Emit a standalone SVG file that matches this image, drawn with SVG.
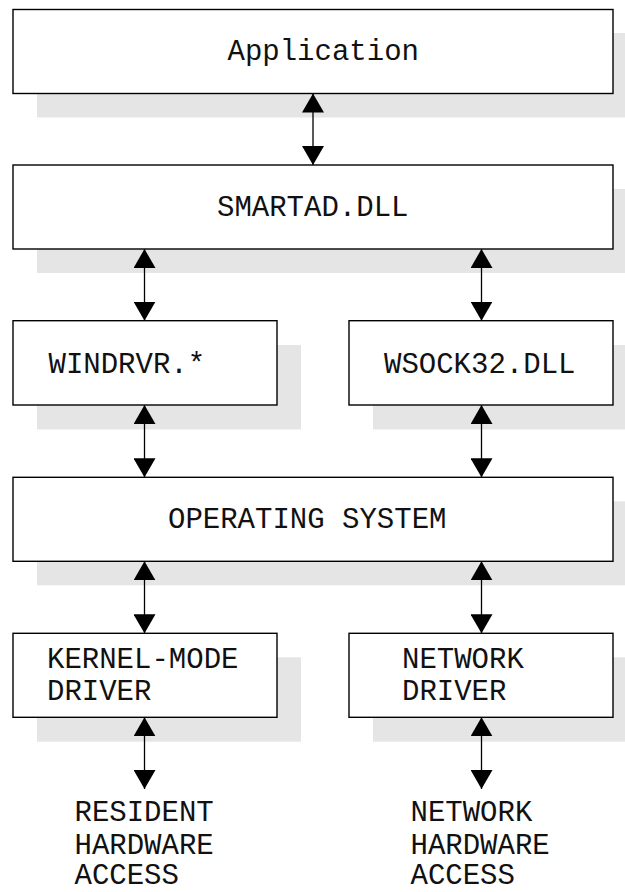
<svg xmlns="http://www.w3.org/2000/svg" width="625" height="892" viewBox="0 0 625 892">
<defs>
<style>
.shadow{fill:#e5e5e5;stroke:none}
.box{fill:#fff;stroke:#000;stroke-width:1.4}
.lbl{font-family:"Liberation Mono","Courier New",monospace;font-size:29px;fill:#111}
.conn{stroke:#000;stroke-width:1.3;fill:none;marker-start:url(#ah);marker-end:url(#ah)}
</style>
<marker id="ah" viewBox="0 0 19 22" refX="19" refY="11" markerWidth="19" markerHeight="22" markerUnits="userSpaceOnUse" orient="auto-start-reverse">
<path d="M0,0 L19,11 L0,22 z" fill="#000"/>
</marker>
</defs>
<rect width="625" height="892" fill="#fff"/>
<g id="shadows">
<rect class="shadow" x="37" y="33" width="600" height="84.5"/>
<rect class="shadow" x="37" y="189" width="600" height="84"/>
<rect class="shadow" x="37" y="345" width="264" height="84.5"/>
<rect class="shadow" x="373" y="345" width="264" height="84.5"/>
<rect class="shadow" x="37" y="501.3" width="600" height="84"/>
<rect class="shadow" x="37" y="657.3" width="264" height="84.4"/>
<rect class="shadow" x="373" y="657.3" width="264" height="84.4"/>
</g>
<g id="application">
<rect class="box" x="13" y="9.5" width="600" height="84"/>
<text class="lbl" x="227.5" y="60">Application</text>
</g>
<g id="smartad">
<rect class="box" x="13" y="165" width="600" height="84"/>
<text class="lbl" x="217" y="216">SMARTAD.DLL</text>
</g>
<g id="windrvr">
<rect class="box" x="13" y="320.7" width="264" height="84.3"/>
<text class="lbl" x="48.5" y="372.7">WINDRVR.*</text>
</g>
<g id="wsock32">
<rect class="box" x="349" y="320.7" width="264" height="84.3"/>
<text class="lbl" x="384" y="372.7">WSOCK32.DLL</text>
</g>
<g id="os">
<rect class="box" x="13" y="477.3" width="600" height="84"/>
<text class="lbl" x="168" y="528.3">OPERATING SYSTEM</text>
</g>
<g id="kernel">
<rect class="box" x="13" y="633.3" width="264" height="84"/>
<text class="lbl" x="47" y="667.5">KERNEL-MODE</text>
<text class="lbl" x="47" y="699.5">DRIVER</text>
</g>
<g id="netdriver">
<rect class="box" x="349" y="633.3" width="264" height="84"/>
<text class="lbl" x="402" y="668.3">NETWORK</text>
<text class="lbl" x="402" y="700">DRIVER</text>
</g>
<g id="resident">
<text class="lbl" x="74.5" y="821">RESIDENT</text>
<text class="lbl" x="74.5" y="853.5">HARDWARE</text>
<text class="lbl" x="74.5" y="884">ACCESS</text>
</g>
<g id="nethw">
<text class="lbl" x="410.5" y="821">NETWORK</text>
<text class="lbl" x="410.5" y="853.5">HARDWARE</text>
<text class="lbl" x="410.5" y="884">ACCESS</text>
</g>
<g id="connectors">
<line class="conn" x1="313" y1="93.5" x2="313" y2="165"/>
<line class="conn" x1="144.5" y1="249" x2="144.5" y2="320.7"/>
<line class="conn" x1="481.5" y1="249" x2="481.5" y2="320.7"/>
<line class="conn" x1="144.5" y1="405" x2="144.5" y2="477.3"/>
<line class="conn" x1="481.5" y1="405" x2="481.5" y2="477.3"/>
<line class="conn" x1="144.5" y1="561.3" x2="144.5" y2="633.3"/>
<line class="conn" x1="481.5" y1="561.3" x2="481.5" y2="633.3"/>
<line class="conn" x1="144.5" y1="717.3" x2="144.5" y2="789"/>
<line class="conn" x1="481.5" y1="717.3" x2="481.5" y2="789"/>
</g>
</svg>
